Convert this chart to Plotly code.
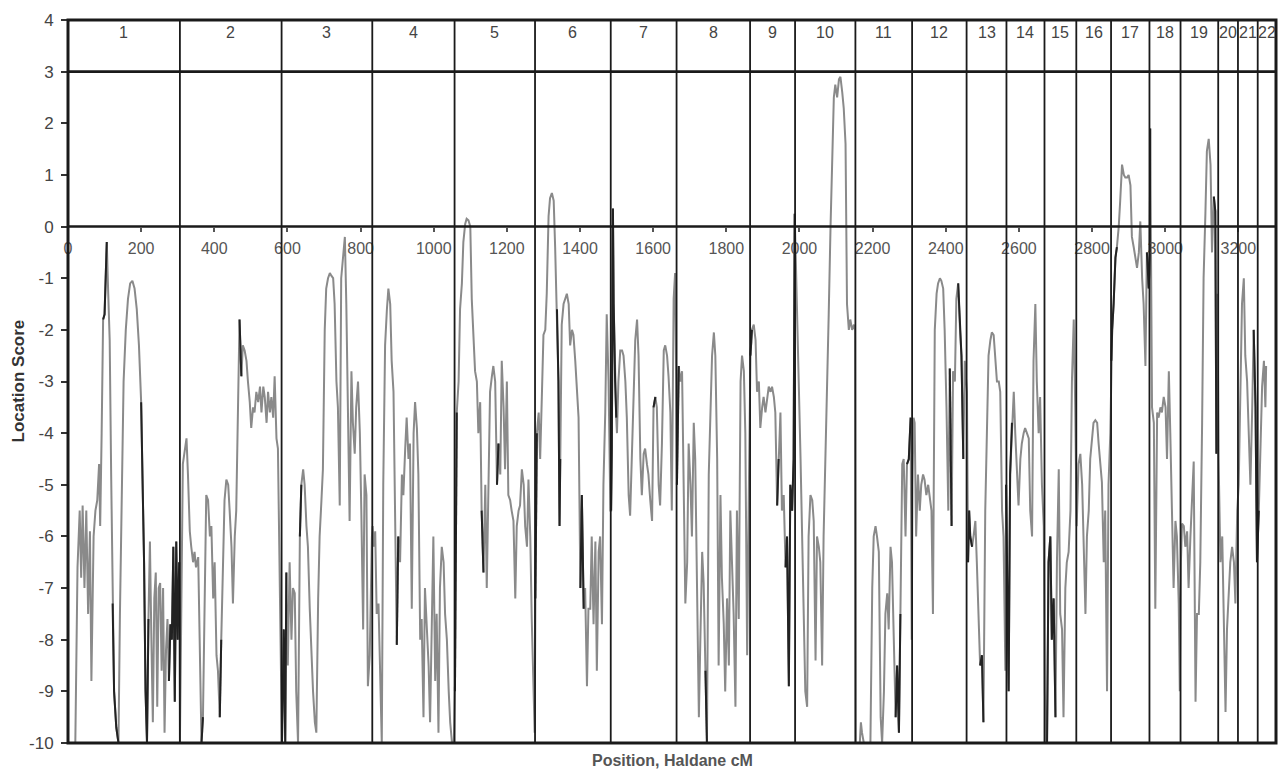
import plotly.graph_objects as go

# ---- chromosome layout (Haldane cM) ----
chrom_labels = [str(i) for i in range(1, 23)]
chrom_starts = [0, 306, 584, 832, 1057, 1277, 1484, 1664, 1865, 1988, 2153,
                2308, 2457, 2566, 2670, 2757, 2852, 2957, 3042, 3145, 3199, 3253]
genome_end = 3303

x_ticks = [0, 200, 400, 600, 800, 1000, 1200, 1400, 1600, 1800, 2000, 2200,
           2400, 2600, 2800, 3000, 3200]
y_ticks = [4, 3, 2, 1, 0, -1, -2, -3, -4, -5, -6, -7, -8, -9, -10]

# ---- location scores per chromosome: (position cM, score) ----
c1 = [(0,-10),(20,-10),(26,-6.6),(32,-5.5),(36,-6.8),(40,-5.4),(45,-7.0),(50,-5.5),(55,-7.5),(60,-5.9),
      (64,-8.8),(70,-6.0),(75,-5.5),(80,-5.3),(85,-4.6),(88,-5.8),(92,-4.0),(96,-1.8),(100,-1.7),(106,-0.3),
      (110,-1.3),(114,-2.2),(118,-4.8),(122,-7.3),(126,-9.0),(132,-9.7),(138,-10),(142,-7.5),(146,-5.8),
      (152,-3.0),(158,-2.0),(164,-1.4),(170,-1.1),(176,-1.05),(182,-1.2),(188,-1.6),(194,-2.3),(200,-3.4),
      (204,-5.0),(208,-6.5),(212,-9.0),(216,-10),(220,-7.6),(224,-6.1),(228,-8.0),(232,-9.6),(236,-7.2),
      (240,-6.7),(244,-9.3),(248,-7.0),(252,-6.9),(256,-8.6),(260,-7.0),(264,-9.8),(268,-8.2),(272,-7.6),
      (276,-8.8),(280,-7.7),(284,-8.0),(288,-6.2),(292,-9.2),(296,-6.1),(300,-8.0),(304,-6.5)]
c2 = [(306,-10),(310,-7.0),(314,-4.6),(320,-4.3),(324,-4.1),(328,-4.8),(333,-5.9),(337,-6.2),(342,-6.5),
      (346,-6.3),(350,-6.6),(356,-6.4),(360,-8.0),(365,-10),(369,-9.5),(374,-6.5),(378,-5.2),(383,-5.3),
      (388,-6.0),(392,-5.8),(397,-7.2),(401,-6.5),(406,-8.3),(410,-8.6),(415,-9.5),(419,-8.0),(424,-6.2),
      (428,-5.3),(433,-4.9),(438,-5.0),(442,-5.5),(447,-6.2),(451,-7.3),(456,-6.0),(460,-5.5),(465,-3.5),
      (469,-1.8),(474,-2.9),(478,-2.3),(483,-2.4),(488,-2.6),(492,-3.0),(497,-3.4),(501,-3.9),(506,-3.5),
      (510,-3.6),(515,-3.2),(520,-3.4),(525,-3.1),(529,-3.6),(534,-3.1),(538,-3.3),(543,-3.8),(547,-3.2),
      (552,-3.6),(556,-3.3),(561,-3.7),(565,-2.9),(570,-4.1),(574,-4.3),(579,-6.8),(583,-9.5)]
c3 = [(585,-10),(590,-7.8),(594,-10),(597,-6.7),(601,-8.5),(606,-6.5),(611,-8.0),(615,-7.0),(620,-7.1),
      (624,-9.0),(629,-10),(634,-6.0),(638,-5.0),(643,-4.7),(647,-5.0),(652,-5.8),(656,-6.2),(661,-7.4),
      (665,-8.2),(670,-9.0),(675,-9.6),(679,-9.8),(684,-7.2),(688,-6.0),(693,-5.3),(697,-4.7),(702,-2.0),
      (706,-1.2),(711,-1.0),(716,-0.9),(720,-0.95),(725,-1.0),(729,-1.5),(734,-3.0),(738,-3.5),(743,-5.4),
      (747,-1.0),(752,-0.6),(757,-0.2),(761,-1.5),(766,-3.5),(770,-5.7),(775,-2.8),(779,-3.8),(784,-4.4),
      (788,-3.5),(793,-3.0),(798,-4.0),(802,-5.5),(807,-7.8),(811,-4.8),(816,-5.2),(820,-8.9),(825,-8.3),
      (831,-6.0)]
c4 = [(833,-5.8),(836,-6.2),(840,-5.9),(844,-7.5),(849,-7.3),(853,-8.5),(858,-10),(862,-5.0),(867,-2.3),
      (872,-1.6),(876,-1.2),(881,-1.5),(885,-2.6),(890,-3.2),(894,-5.8),(899,-8.1),(903,-6.0),(908,-6.5),
      (913,-4.8),(917,-5.2),(922,-4.3),(926,-3.7),(931,-4.5),(935,-4.2),(940,-7.4),(945,-4.0),(949,-3.4),
      (954,-3.9),(958,-4.8),(963,-8.0),(967,-7.6),(972,-9.5),(976,-7.0),(981,-7.7),(986,-8.5),(990,-9.6),
      (995,-7.2),(999,-6.0),(1004,-8.8),(1008,-7.5),(1013,-9.8),(1017,-7.0),(1022,-6.2),(1027,-6.5),
      (1031,-7.5),(1036,-8.0),(1041,-9.0),(1045,-9.6),(1050,-10),(1055,-10)]
c5 = [(1058,-9.0),(1060,-7.2),(1063,-3.6),(1068,-3.0),(1072,-1.6),(1077,-1.1),(1081,-0.3),(1086,0.05),
      (1090,0.15),(1095,0.12),(1100,0.0),(1104,-1.4),(1109,-2.1),(1113,-2.8),(1118,-3.0),(1122,-4.0),
      (1127,-3.4),(1131,-5.5),(1136,-6.7),(1141,-5.0),(1145,-7.0),(1150,-5.0),(1154,-3.2),(1159,-2.9),
      (1163,-2.7),(1168,-3.0),(1173,-5.0),(1177,-4.2),(1182,-4.8),(1186,-2.6),(1191,-3.5),(1195,-4.7),
      (1200,-3.0),(1204,-5.2),(1209,-5.3),(1213,-5.5),(1218,-5.7),(1223,-7.2),(1227,-5.8),(1232,-5.5),
      (1236,-5.4),(1241,-4.7),(1246,-5.0),(1250,-5.8),(1255,-6.2),(1259,-4.9),(1264,-6.0),(1268,-7.6),
      (1273,-9.2),(1276,-9.8)]
c6 = [(1278,-7.2),(1282,-4.0),(1287,-3.6),(1291,-4.5),(1296,-3.2),(1300,-2.1),(1305,-2.0),(1309,-1.3),
      (1314,0.2),(1318,0.55),(1323,0.65),(1328,0.5),(1332,-0.4),(1337,-1.6),(1341,-3.0),(1344,-5.8),
      (1346,-4.5),(1350,-1.9),(1355,-1.5),(1360,-1.4),(1364,-1.3),(1369,-1.5),(1373,-2.3),(1378,-2.0),
      (1382,-2.1),(1387,-2.6),(1391,-3.1),(1396,-3.7),(1401,-7.0),(1405,-5.2),(1410,-7.4),(1414,-7.0),
      (1419,-8.9),(1423,-7.4),(1428,-7.4),(1432,-6.0),(1437,-7.7),(1442,-6.1),(1446,-8.6),(1451,-6.3),
      (1455,-6.0),(1460,-7.7),(1464,-5.0),(1469,-3.6),(1473,-1.7),(1478,-3.0),(1483,-5.5)]
c7 = [(1485,-5.5),(1487,-4.3),(1490,0.35),(1492,-1.5),(1496,-3.0),(1499,-3.7),(1501,-4.0),(1505,-3.0),
      (1510,-2.4),(1515,-2.4),(1519,-2.5),(1524,-3.0),(1528,-3.7),(1533,-5.2),(1537,-5.6),(1542,-4.5),
      (1546,-3.4),(1551,-2.2),(1556,-1.8),(1560,-2.5),(1565,-4.5),(1569,-5.2),(1574,-4.4),(1578,-4.3),
      (1583,-4.6),(1587,-4.8),(1592,-5.3),(1597,-5.7),(1601,-3.5),(1606,-3.3),(1610,-3.5),(1615,-5.0),
      (1619,-5.4),(1624,-4.2),(1629,-2.4),(1633,-2.3),(1638,-2.5),(1642,-2.9),(1647,-3.6),(1651,-5.5),
      (1656,-1.4),(1660,-0.9),(1663,-3.0)]
c8 = [(1665,-5.0),(1670,-2.7),(1674,-3.0),(1679,-2.8),(1683,-4.5),(1688,-7.3),(1693,-6.5),(1697,-4.2),
      (1702,-5.0),(1706,-6.0),(1711,-3.8),(1715,-4.5),(1720,-7.0),(1725,-9.5),(1729,-8.0),(1734,-6.3),
      (1738,-6.9),(1743,-8.6),(1747,-10),(1752,-4.8),(1756,-3.5),(1761,-2.5),(1766,-2.05),(1770,-2.5),
      (1775,-4.5),(1779,-8.5),(1784,-5.2),(1788,-6.8),(1793,-7.7),(1797,-9.0),(1802,-7.2),(1807,-8.5),
      (1811,-5.5),(1816,-6.6),(1820,-7.5),(1825,-9.3),(1829,-5.5),(1834,-7.6),(1839,-3.0),(1843,-2.5),
      (1848,-2.8),(1852,-4.0),(1857,-8.3),(1861,-5.5)]
c9 = [(1866,-2.5),(1870,-2.0),(1875,-1.9),(1880,-2.2),(1884,-3.2),(1889,-3.0),(1893,-3.9),(1898,-3.5),
      (1902,-3.3),(1907,-3.6),(1911,-3.4),(1916,-3.1),(1921,-3.2),(1925,-3.1),(1930,-3.3),(1934,-3.6),
      (1939,-5.4),(1943,-4.5),(1948,-3.6),(1952,-5.5),(1957,-5.2),(1962,-6.6),(1966,-6.0),(1971,-8.9),
      (1975,-5.0),(1980,-5.5),(1984,-4.5),(1987,0.25)]
c10 = [(1990,-0.5),(1994,-2.0),(1998,-3.0),(2003,-4.5),(2007,-6.0),(2012,-7.6),(2016,-9.0),(2021,-9.3),
       (2025,-6.0),(2030,-5.2),(2035,-5.3),(2039,-5.7),(2044,-8.4),(2048,-6.0),(2053,-6.2),(2057,-6.5),
       (2062,-8.5),(2066,-6.0),(2071,-4.5),(2076,-3.5),(2080,-1.7),(2085,0.0),(2089,1.4),(2094,2.5),
       (2098,2.75),(2103,2.5),(2108,2.85),(2112,2.9),(2117,2.6),(2121,2.3),(2126,1.6),(2130,-1.5),
       (2135,-2.0),(2139,-1.8),(2144,-2.0),(2149,-1.9),(2152,-2.0)]
c11 = [(2154,-10),(2165,-10),(2168,-9.6),(2171,-9.8),(2176,-10),(2194,-10),(2199,-7.0),(2203,-6.0),
       (2208,-5.8),(2212,-6.0),(2217,-6.3),(2222,-9.5),(2226,-10),(2231,-9.0),(2235,-7.5),(2240,-7.1),
       (2244,-7.8),(2249,-6.2),(2253,-6.5),(2258,-8.0),(2263,-9.5),(2267,-8.5),(2272,-9.8),(2276,-7.5),
       (2281,-4.6),(2285,-4.5),(2290,-6.0),(2294,-4.6),(2299,-4.5),(2304,-3.7),(2307,-8.0)]
c12 = [(2309,-5.0),(2312,-3.7),(2315,-3.8),(2319,-6.0),(2324,-4.8),(2329,-5.5),(2333,-5.0),(2338,-4.8),
       (2342,-4.9),(2347,-5.2),(2352,-5.0),(2356,-5.2),(2361,-5.5),(2365,-7.5),(2370,-2.0),(2375,-1.3),
       (2379,-1.1),(2384,-1.0),(2388,-1.05),(2393,-1.2),(2397,-2.0),(2402,-3.5),(2407,-5.5),(2411,-2.75),
       (2416,-5.8),(2420,-2.8),(2425,-3.0),(2429,-1.4),(2434,-1.1),(2439,-2.0),(2443,-2.5),(2448,-4.5),
       (2452,-2.6),(2456,-3.0)]
c13 = [(2458,-3.2),(2461,-6.5),(2464,-5.5),(2467,-6.0),(2472,-6.2),(2476,-6.0),(2481,-5.7),(2485,-6.5),
       (2490,-7.5),(2494,-8.5),(2499,-8.3),(2503,-9.6),(2508,-5.5),(2513,-3.5),(2517,-2.5),(2522,-2.2),
       (2526,-2.05),(2531,-2.1),(2535,-2.6),(2540,-3.0),(2545,-3.0),(2549,-3.2),(2554,-5.5),(2558,-6.0),
       (2563,-8.6),(2565,-5.0)]
c14 = [(2567,-6.5),(2572,-9.0),(2576,-4.8),(2581,-3.8),(2586,-3.2),(2590,-4.0),(2595,-4.8),(2599,-5.4),
       (2604,-4.5),(2608,-4.2),(2613,-4.0),(2617,-3.9),(2622,-4.0),(2627,-4.1),(2631,-5.5),(2636,-6.0),
       (2640,-2.6),(2645,-1.5),(2649,-3.0),(2654,-4.0),(2658,-3.3),(2663,-5.0),(2668,-5.8)]
c15 = [(2671,-9.0),(2674,-10),(2677,-10),(2681,-6.5),(2686,-6.0),(2690,-8.0),(2695,-7.2),(2700,-9.5),
       (2704,-6.5),(2709,-4.7),(2713,-7.5),(2718,-7.8),(2722,-9.5),(2727,-7.0),(2731,-6.5),(2736,-6.3),
       (2741,-5.5),(2745,-3.0),(2750,-1.8),(2754,-3.5),(2756,-5.0)]
c16 = [(2758,-5.8),(2763,-4.6),(2768,-4.4),(2773,-5.0),(2777,-6.0),(2782,-7.5),(2786,-6.0),(2791,-5.5),
       (2795,-4.5),(2800,-4.0),(2804,-3.8),(2809,-3.75),(2814,-3.8),(2818,-4.2),(2823,-4.7),(2827,-4.95),
       (2832,-6.5),(2836,-5.5),(2841,-9.0),(2845,-5.0),(2850,-4.0)]
c17 = [(2853,-2.6),(2855,-2.0),(2859,-1.5),(2864,-0.6),(2868,-0.4),(2873,0.0),(2877,0.5),(2882,1.2),
       (2887,1.0),(2891,0.95),(2896,0.95),(2900,1.0),(2905,0.8),(2909,-0.2),(2914,-0.4),(2918,-0.6),
       (2923,-0.8),(2928,-0.5),(2932,0.1),(2937,-1.0),(2941,-1.5),(2946,-2.7),(2950,-0.5),(2955,-1.2)]
c18 = [(2958,-0.5),(2959,1.9),(2962,-2.5),(2964,-3.5),(2969,-3.8),(2973,-7.4),(2978,-3.6),(2982,-3.7),
       (2987,-3.5),(2991,-3.6),(2996,-3.3),(3001,-3.5),(3005,-4.5),(3010,-2.8),(3014,-4.0),(3019,-5.5),
       (3023,-7.0),(3028,-5.7),(3032,-6.0),(3037,-7.3),(3040,-9.0)]
c19 = [(3043,-6.5),(3046,-5.75),(3051,-5.8),(3055,-6.2),(3060,-5.9),(3064,-7.0),(3069,-6.0),(3073,-5.2),
       (3078,-4.55),(3083,-9.2),(3087,-7.5),(3092,-7.5),(3096,-6.5),(3101,-3.8),(3105,-1.0),(3110,0.26),
       (3114,1.46),(3119,1.7),(3124,1.2),(3128,-0.5),(3133,0.58),(3137,0.3),(3140,-4.4),(3143,-1.3)]
c20 = [(3146,-4.5),(3151,-6.5),(3156,-6.0),(3160,-7.5),(3165,-9.4),(3169,-7.8),(3174,-7.0),(3178,-6.5),
       (3183,-6.2),(3188,-6.5),(3192,-7.3),(3197,-5.5)]
c21 = [(3201,-5.0),(3206,-3.0),(3210,-1.5),(3215,-1.0),(3219,-2.5),(3224,-3.0),(3229,-4.2),(3233,-5.0),
       (3238,-3.5),(3242,-2.0),(3247,-3.5),(3251,-6.5)]
c22 = [(3256,-5.5),(3260,-4.5),(3265,-3.1),(3270,-2.6),(3274,-3.5),(3276,-2.7)]

# stretches of the scan drawn in black (cM ranges)
black_ranges = [(94,108),(120,140),(196,220),(276,305),(362,372),(412,420),(466,476),(585,600),
                (632,642),(855,860),(897,905),(937,942),(1057,1064),(1129,1137),(1171,1180),
                (1277,1284),(1298,1302),(1335,1346),(1399,1412),(1485,1500),(1599,1606),(1665,1672),
                (1709,1713),(1741,1749),(1866,1871),(1937,1945),(1960,1989),(2261,2278),(2292,2306),
                (2409,2418),(2432,2449),(2461,2473),(2492,2504),(2565,2582),(2672,2701),(2852,2869),
                (2948,2960),(3131,3141),(3240,3258)]

chroms = [c1, c2, c3, c4, c5, c6, c7, c8, c9, c10, c11, c12, c13, c14, c15, c16, c17, c18, c19, c20, c21, c22]
all_pts = [p for c in chroms for p in c]
xs = [p[0] for p in all_pts]
ys = [p[1] for p in all_pts]

bx, by = [], []
for lo, hi in black_ranges:
    seg = [p for p in all_pts if lo <= p[0] <= hi]
    bx += [p[0] for p in seg] + [None]
    by += [p[1] for p in seg] + [None]

FONT = "Liberation Sans, Arial, sans-serif"

fig = go.Figure()
fig.add_trace(go.Scatter(x=xs, y=ys, mode="lines", line=dict(color="#8a8a8a", width=2),
                         showlegend=False, hoverinfo="skip"))
fig.add_trace(go.Scatter(x=bx, y=by, mode="lines", line=dict(color="#222222", width=2),
                         showlegend=False, hoverinfo="skip"))

shapes = []
for s in chrom_starts[1:]:
    shapes.append(dict(type="line", xref="x", yref="y", x0=s, x1=s, y0=-10, y1=4,
                       line=dict(color="#1a1a1a", width=1.8)))
for yv in (3, 0):
    shapes.append(dict(type="line", xref="paper", yref="y", x0=0, x1=1, y0=yv, y1=yv,
                       line=dict(color="#1a1a1a", width=2.6)))
shapes.append(dict(type="rect", xref="paper", yref="paper", x0=0, x1=1, y0=0, y1=1,
                   line=dict(color="#1a1a1a", width=3)))

ends = chrom_starts[1:] + [genome_end]
annotations = []
for lab, a, b in zip(chrom_labels, chrom_starts, ends):
    annotations.append(dict(x=(a + b) / 2, y=3.76, xref="x", yref="y", text=lab, showarrow=False,
                            font=dict(size=16, color="#444444", family=FONT)))
annotations.append(dict(x=0.5, y=0, xref="paper", yref="paper", yshift=-17, text="<b>Position, Haldane cM</b>",
                        showarrow=False, yanchor="middle",
                        font=dict(size=16, color="#555555", family=FONT)))
annotations.append(dict(x=0, y=0.5, xref="paper", yref="paper", xshift=-50, text="<b>Location Score</b>",
                        showarrow=False, textangle=-90, xanchor="center",
                        font=dict(size=17, color="#333333", family=FONT)))

fig.update_layout(
    width=1283, height=770,
    margin=dict(l=68, r=7, t=20, b=27, autoexpand=False),
    paper_bgcolor="white", plot_bgcolor="white",
    shapes=shapes, annotations=annotations,
    font=dict(family=FONT, color="#444444"),
    xaxis=dict(range=[0, genome_end], tickvals=x_ticks, ticktext=[str(v) for v in x_ticks],
               showgrid=False, zeroline=False, showline=False, anchor="free", position=10/14,
               ticks="outside", ticklen=4, tickcolor="#555555", tickwidth=1.5,
               tickfont=dict(size=16, color="#555555"), ticklabelstandoff=3),
    yaxis=dict(range=[-10, 4], tickvals=y_ticks, ticktext=[str(v) for v in y_ticks],
               showgrid=False, zeroline=False, showline=False,
               ticks="outside", ticklen=6, tickcolor="#333333", tickwidth=1.5,
               tickfont=dict(size=17, color="#444444"), ticklabelstandoff=4),
)

fig.write_html("out.html", config={"displayModeBar": False},
               post_script="document.body.style.margin='0';document.body.style.overflow='hidden';")
